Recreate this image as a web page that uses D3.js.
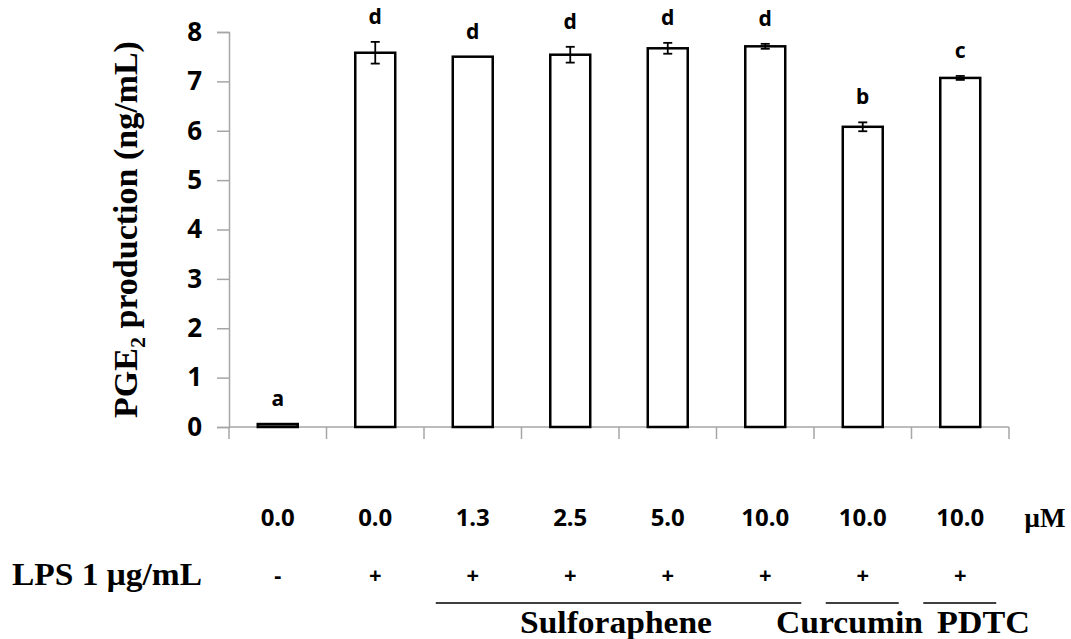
<!DOCTYPE html>
<html>
<head>
<meta charset="utf-8">
<script src="https://cdn.jsdelivr.net/npm/d3@7"></script>
<style>
  html, body { margin: 0; padding: 0; background: #fff; }
  svg { display: block; }
</style>
</head>
<body>
<svg id="chart" width="1071" height="639"></svg>
<script>
// ---- data ----
const categories = ["c1", "c2", "c3", "c4", "c5", "c6", "c7", "c8"];
const doses = ["0.0", "0.0", "1.3", "2.5", "5.0", "10.0", "10.0", "10.0"];
const lps = ["-", "+", "+", "+", "+", "+", "+", "+"];
const means = [0.06, 7.58, 7.50, 7.54, 7.67, 7.71, 6.08, 7.07];
const errors = [0.00, 0.22, 0.00, 0.16, 0.11, 0.05, 0.09, 0.04];
const letters = ["a", "d", "d", "d", "d", "d", "b", "c"];
const yTicks = [0, 1, 2, 3, 4, 5, 6, 7, 8];
const groupNames = ["Sulforaphene", "Curcumin", "PDTC"];
const groupFrom = [2, 6, 7];
const groupTo = [5, 6, 7];

// ---- layout ----
const svg = d3.select("#chart");
const mLeft = 229, mRight = 1009, mTop = 32, mBottom = 427;

const x = d3.scaleBand().domain(categories).range([mLeft, mRight])
  .paddingInner(0.59).paddingOuter(0.295);
const y = d3.scaleLinear().domain([0, 8]).range([mBottom, mTop]);
const gap = x.step() - x.bandwidth();
const cx = i => x(categories[i]) + x.bandwidth() / 2;
const idx = d3.range(categories.length);

const axisColor = "#a6a6a6";
const sans = "'Noto Sans', 'Open Sans', sans-serif";
const serif = "'Liberation Serif', 'DejaVu Serif', serif";

// Y axis
const yAxis = svg.append("g").attr("transform", `translate(${mLeft},0)`)
  .call(d3.axisLeft(y).tickValues(yTicks).tickSize(12).tickPadding(15).tickFormat(d3.format("d")));
yAxis.select(".domain").attr("stroke", axisColor).attr("stroke-width", 1.5);
yAxis.selectAll(".tick line").attr("stroke", axisColor).attr("stroke-width", 1.5);
yAxis.selectAll(".tick text").attr("font-family", sans).attr("font-weight", "bold")
  .attr("font-size", 26).attr("fill", "#000");

// X axis line with ticks at category boundaries
svg.append("line").attr("x1", mLeft).attr("x2", mRight).attr("y1", mBottom).attr("y2", mBottom)
  .attr("stroke", axisColor).attr("stroke-width", 1.5);
const bounds = categories.map(c => x(c) - gap / 2)
  .concat([x(categories[categories.length - 1]) + x.bandwidth() + gap / 2]);
svg.selectAll(".xtick").data(bounds).enter().append("line")
  .attr("x1", d => d).attr("x2", d => d).attr("y1", mBottom).attr("y2", mBottom + 12)
  .attr("stroke", axisColor).attr("stroke-width", 1.5);

// Bars
svg.selectAll(".bar").data(idx).enter().append("rect")
  .attr("x", i => x(categories[i]))
  .attr("width", x.bandwidth())
  .attr("y", i => y(means[i]))
  .attr("height", i => y(0) - y(means[i]))
  .attr("fill", i => i === 0 ? "#808080" : "#fff")
  .attr("stroke", "#000").attr("stroke-width", 2.5);

// Error bars
const withErr = idx.filter(i => errors[i] > 0);
const eb = svg.selectAll(".err").data(withErr).enter().append("g");
eb.append("line")
  .attr("x1", i => cx(i)).attr("x2", i => cx(i))
  .attr("y1", i => y(means[i] - errors[i]))
  .attr("y2", i => y(means[i] + errors[i]))
  .attr("stroke", "#000").attr("stroke-width", 1.8);
[-1, 1].forEach(s => {
  eb.append("line")
    .attr("x1", i => cx(i) - 4.5).attr("x2", i => cx(i) + 4.5)
    .attr("y1", i => y(means[i] + s * errors[i]))
    .attr("y2", i => y(means[i] + s * errors[i]))
    .attr("stroke", "#000").attr("stroke-width", 1.8);
});

// Significance letters
svg.selectAll(".letter").data(idx).enter().append("text")
  .attr("x", i => cx(i))
  .attr("y", i => y(means[i] + errors[i]) - 18)
  .attr("text-anchor", "middle")
  .attr("font-family", sans).attr("font-weight", "bold").attr("font-size", 21)
  .text(i => letters[i]);

// Y axis title
svg.append("text")
  .attr("transform", `translate(137,${(mTop + mBottom) / 2}) rotate(-90)`)
  .attr("text-anchor", "middle")
  .attr("font-family", serif).attr("font-weight", "bold").attr("font-size", 34)
  .call(t => {
    t.append("tspan").text("PGE");
    t.append("tspan").attr("font-size", 22).attr("dy", 8).text("2");
    t.append("tspan").attr("dy", -8).text(" production (ng/mL)");
  });

// Dose row
svg.selectAll(".dose").data(idx).enter().append("text")
  .attr("x", i => cx(i)).attr("y", 526)
  .attr("text-anchor", "middle")
  .attr("font-family", sans).attr("font-weight", "bold").attr("font-size", 24)
  .text(i => doses[i]);
svg.append("text").attr("x", 1045).attr("y", 527).attr("text-anchor", "middle")
  .attr("font-family", serif).attr("font-weight", "bold").attr("font-size", 27)
  .text("μM");

// LPS row
svg.append("text").attr("x", 12).attr("y", 585)
  .attr("font-family", serif).attr("font-weight", "bold").attr("font-size", 31)
  .attr("textLength", 190).attr("lengthAdjust", "spacingAndGlyphs")
  .text("LPS 1 μg/mL");
svg.selectAll(".lps").data(idx).enter().append("text")
  .attr("x", i => cx(i)).attr("y", 583)
  .attr("text-anchor", "middle")
  .attr("font-family", sans).attr("font-weight", "bold").attr("font-size", 22)
  .text(i => lps[i]);

// Group lines and labels
groupNames.forEach((g, k) => {
  const x1 = cx(groupFrom[k]) - 37, x2 = cx(groupTo[k]) + 36;
  svg.append("line").attr("x1", x1).attr("x2", x2).attr("y1", 603).attr("y2", 603)
    .attr("stroke", "#000").attr("stroke-width", 1.5);
});
const labelX = [616, 923, 937];
const labelAnchor = ["middle", "end", "start"];
const labelW = [192, 147, 93];
groupNames.forEach((g, k) => {
  svg.append("text").attr("x", labelX[k]).attr("y", 633)
    .attr("text-anchor", labelAnchor[k])
    .attr("font-family", serif).attr("font-weight", "bold").attr("font-size", 31)
    .attr("textLength", labelW[k]).attr("lengthAdjust", "spacingAndGlyphs")
    .text(g);
});
</script>
</body>
</html>
